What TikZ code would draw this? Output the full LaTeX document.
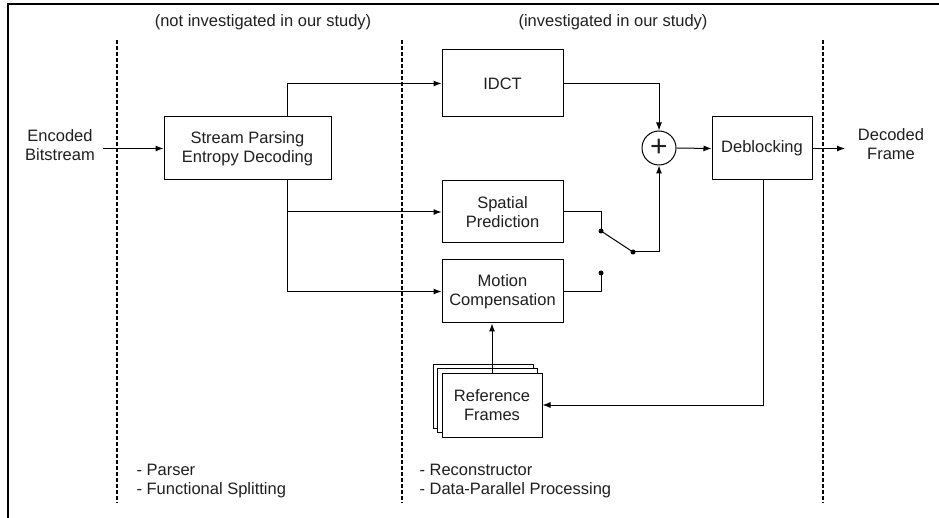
\documentclass[tikz,border=0pt]{standalone}
\usepackage{fontspec}
\setmainfont{Liberation Sans}
\usetikzlibrary{arrows.meta}
\begin{document}
\begin{tikzpicture}[x=1pt,y=-1pt,
  every node/.style={font=\fontsize{16.5}{19}\selectfont, text=black!88, align=center},
  box/.style={draw, line width=1pt, fill=white, minimum width=121pt, inner sep=0pt},
  conn/.style={line width=1pt},
  arr/.style={conn, -{Latex[length=8pt,width=6pt]}},
  divider/.style={line width=2pt, dash pattern=on 4pt off 2pt},
  dotp/.style={circle, fill=black, inner sep=0pt, minimum size=5pt},
  note/.style={align=left, anchor=west}]
\useasboundingbox (0,0) rectangle (939,518);
\draw[line width=1.2pt] (939,4) -- (8,4) -- (8,518);
\draw[divider] (117,40) -- (117,503);
\draw[divider] (402,40) -- (402,503);
\draw[divider] (823,40) -- (823,503);

\node (top1) at (263,22) {(not investigated in our study)};
\node (top2) at (613,22) {(investigated in our study)};
\node[note] (n1) at (133,481) {- Parser\\- Functional Splitting};
\node[note] (n2) at (416,481) {- Reconstructor\\- Data-Parallel Processing};

\node (enc) at (60,145) {Encoded\\Bitstream};
\coordinate (encout) at (103,148.5);
\node[box, minimum width=167pt, minimum height=63pt] (stream) at (247.5,148.5) {Stream Parsing\\Entropy Decoding};
\node[box, minimum height=67pt] (idct) at (502.5,83.5) {IDCT};
\node[box, minimum height=62pt] (spatial) at (502.5,212) {Spatial\\Prediction};
\node[box, minimum height=63pt] (motion) at (502.5,291.5) {Motion\\Compensation};
\node[box, minimum width=100pt, minimum height=64pt] (ref1) at (483,396) {};
\node[box, minimum width=100pt, minimum height=64pt] (ref2) at (487.5,400.5) {};
\node[box, minimum width=100pt, minimum height=64pt] (ref3) at (492,405) {Reference\\Frames};
\node[draw, circle, minimum size=34pt, inner sep=0pt, line width=1pt] (sum) at (659,148) {\fontsize{30}{30}\selectfont +};
\node[box, minimum width=100pt, minimum height=63pt] (deblock) at (762,148.5) {Deblocking};
\node (dec) at (891,144) {Decoded\\Frame};
\coordinate (decin) at (845,148.5);

\node[dotp] (d1) at (601,231) {};
\node[dotp] (d2) at (633,252) {};
\node[dotp] (d3) at (601,273) {};

\draw[arr] (encout) -- (stream.west);
\draw[arr] ([xshift=39.5pt]stream.north) |- (idct.west);
\draw[arr] ([xshift=39.5pt]stream.south) |- (spatial.west);
\draw[arr] ([xshift=39.5pt]stream.south) |- (motion.west);
\draw[arr] (idct.east) -| (sum.north);
\draw[conn] (spatial.east) -| (d1.center);
\draw[conn] (d1.center) -- (d2.center);
\draw[arr] (d2.center) -| (sum.south);
\draw[conn] (motion.east) -| (d3.center);
\draw[arr] (sum.east) -- (deblock.west);
\draw[arr] (deblock.east) -- (decin);
\draw[arr] ([xshift=1pt]deblock.south) |- (ref3.east);
\draw[arr] (ref3.north) -- (ref3.north |- motion.south);
\end{tikzpicture}
\end{document}
